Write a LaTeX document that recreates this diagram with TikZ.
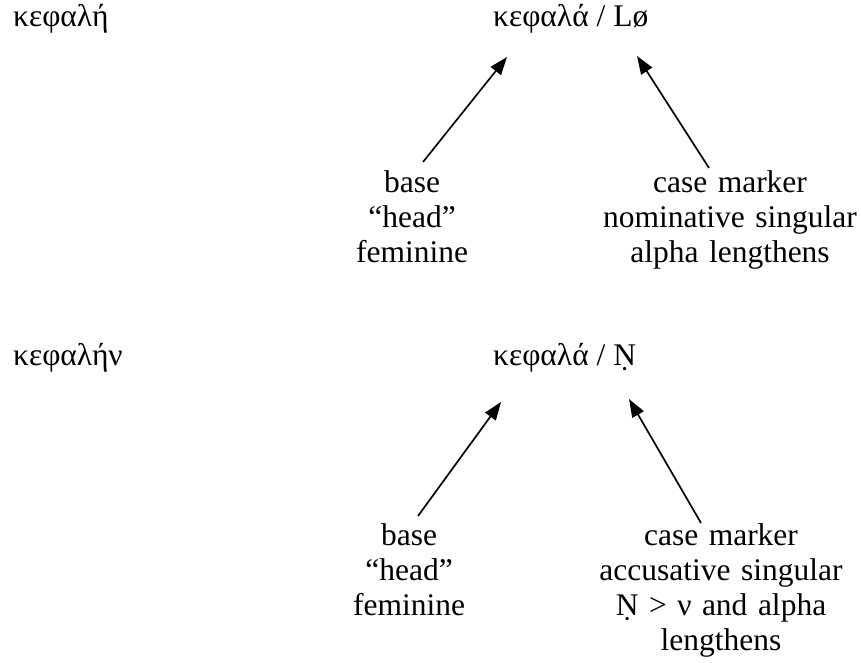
\documentclass[tikz,border=0pt]{standalone}
\usepackage{fontspec}
\setmainfont{Liberation Serif}
\usetikzlibrary{arrows.meta}
\tikzset{
  txt/.style={inner sep=0pt, font=\fontsize{31.5}{35}\selectfont},
  word/.style={txt, anchor=base west},
  blk/.style={txt, anchor=base, text width=320pt, align=center},
  arr/.style={line width=1.7pt, -{Triangle[length=18pt,width=13pt]}}
}
\begin{document}
\begin{tikzpicture}[x=1pt,y=-1pt]
\useasboundingbox (0,0) rectangle (861,663);
% group 1
\node[word] (w1) at (13,27) {κεφαλή};
\node[word] (f1) at (493,27) {κεφαλά / Lø};
\node[blk] (b1) at (412,193) {base\\“head”\\feminine};
\node[blk] (c1) at (730,193) {case marker\\nominative singular\\alpha lengthens};
\coordinate (b1t) at (423,162);
\coordinate (f1l) at (507,57);
\coordinate (c1t) at (709,168);
\coordinate (f1r) at (637,56);
\draw[arr] (b1t) -- (f1l);
\draw[arr] (c1t) -- (f1r);
% group 2
\node[word] (w2) at (13,365) {κεφαλήν};
\node[word] (f2) at (493,365) {κεφαλά / Ṇ};
\node[blk] (b2) at (409,545) {base\\“head”\\feminine};
\node[blk] (c2) at (721,545) {case marker\\accusative singular\\Ṇ > ν and alpha\\lengthens};
\coordinate (b2t) at (418,516);
\coordinate (f2l) at (501,402);
\coordinate (c2t) at (701,523);
\coordinate (f2r) at (629,399);
\draw[arr] (b2t) -- (f2l);
\draw[arr] (c2t) -- (f2r);
\end{tikzpicture}
\end{document}
